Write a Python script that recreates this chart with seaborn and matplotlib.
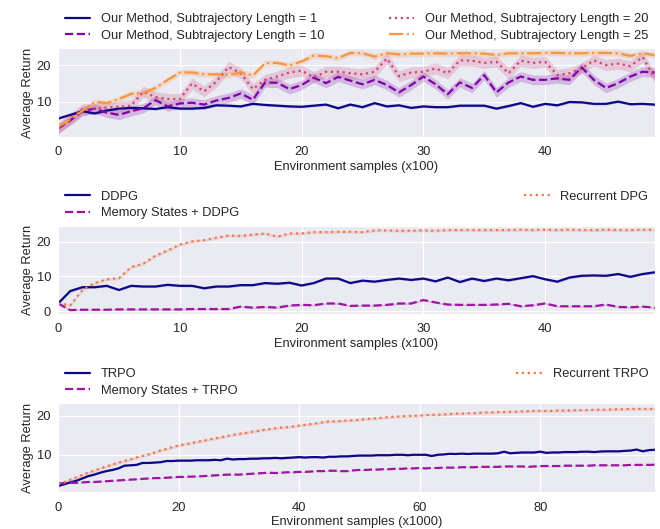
import numpy as np
import pandas as pd
import matplotlib
matplotlib.use("Agg")
import matplotlib.pyplot as plt
import seaborn as sns


# --- panel 1: our method, different subtrajectory lengths (x100 samples)
steps_a = list(range(50))
len1 = [5.5, 6.5, 7.5, 6.9, 7.7, 8.2, 8.4, 8.3, 8.1, 8.6, 8.2, 8.2, 8.4, 9.1, 9.0,
        8.8, 9.5, 9.2, 9.0, 8.8, 8.7, 9.0, 9.3, 8.3, 9.3, 8.6, 9.7, 8.8, 9.1, 8.4,
        8.8, 8.6, 8.6, 9.0, 9.0, 9.0, 8.2, 8.9, 9.7, 8.7, 9.5, 9.1, 10.0, 9.9, 9.5,
        9.5, 10.1, 9.4, 9.5, 9.3]
len10 = [2.8, 5.0, 7.5, 8.2, 7.1, 6.5, 7.5, 8.3, 10.5, 8.8, 9.6, 9.8, 9.3, 10.4, 11.1,
         12.3, 10.6, 15.3, 15.2, 13.5, 14.6, 16.6, 15.1, 16.8, 15.8, 14.8, 16.0, 14.6,
         12.6, 14.6, 16.9, 14.8, 12.1, 15.3, 13.8, 17.3, 12.6, 15.3, 16.9, 16.0, 16.0,
         16.4, 16.0, 19.4, 16.0, 13.8, 15.1, 16.9, 18.2, 18.0]
len20 = [2.8, 5.5, 8.0, 8.2, 8.5, 8.7, 9.0, 12.8, 11.3, 10.8, 10.8, 15.0, 12.9, 15.5,
         19.5, 17.8, 13.5, 16.0, 16.9, 18.0, 18.5, 16.7, 18.2, 18.2, 17.8, 17.5, 18.2,
         21.8, 17.0, 18.0, 18.2, 19.1, 17.8, 21.3, 21.2, 20.6, 20.9, 17.8, 21.2, 20.6,
         20.9, 17.3, 17.8, 19.1, 21.3, 20.0, 20.4, 19.7, 22.2, 16.5]
len25 = [3.2, 5.3, 7.6, 10.0, 9.7, 10.8, 12.2, 12.5, 13.8, 16.0, 18.0, 18.0, 17.5, 17.5,
         17.3, 18.0, 17.2, 20.5, 20.6, 19.9, 21.0, 22.6, 22.4, 21.9, 23.3, 23.2, 22.3,
         23.2, 22.9, 23.1, 23.1, 23.2, 23.1, 23.2, 23.2, 23.1, 22.7, 23.2, 23.2, 23.2,
         23.3, 23.3, 23.2, 23.2, 23.3, 23.3, 23.2, 22.5, 23.2, 22.7]

# --- panel 2: DDPG variants (x100 samples)
steps_b = list(range(50))
ddpg = [2.2, 5.8, 6.9, 6.9, 7.3, 6.1, 7.3, 7.1, 7.1, 7.6, 7.3, 7.3, 6.6, 7.1, 7.1,
        7.5, 7.5, 8.1, 7.9, 8.2, 7.4, 8.1, 9.4, 9.4, 8.1, 8.8, 8.5, 9.0, 9.4, 9.0,
        9.4, 8.6, 9.7, 8.4, 9.4, 8.7, 9.4, 8.9, 9.5, 10.1, 9.2, 8.5, 9.7, 10.2, 10.3,
        10.2, 10.7, 9.9, 10.7, 11.2]
mem_ddpg = [2.2, 0.3, 0.4, 0.4, 0.4, 0.5, 0.5, 0.5, 0.5, 0.5, 0.5, 0.6, 0.6, 0.6, 0.6,
            1.3, 1.0, 1.2, 1.0, 1.6, 1.8, 1.7, 2.2, 2.2, 1.5, 1.6, 1.6, 1.8, 2.2, 2.2,
            3.2, 2.5, 1.9, 1.8, 1.8, 1.8, 1.9, 2.1, 1.4, 1.7, 2.2, 1.4, 1.4, 1.4, 1.4,
            1.9, 1.2, 1.1, 1.3, 1.0]
rdpg = [2.2, 1.7, 6.1, 8.1, 9.2, 9.5, 12.7, 13.7, 16.0, 17.5, 19.2, 20.1, 20.5, 21.2,
        21.8, 21.7, 22.1, 22.4, 21.5, 22.4, 22.4, 22.8, 22.8, 22.9, 22.9, 22.8, 23.3,
        23.3, 23.2, 23.2, 23.3, 23.2, 23.4, 23.4, 23.4, 23.4, 23.4, 23.4, 23.5, 23.4,
        23.5, 23.4, 23.5, 23.4, 23.4, 23.5, 23.4, 23.4, 23.5, 23.5]

# --- panel 3: TRPO variants (x1000 samples)
steps_c = list(range(100))
trpo = [2.0, 2.4, 2.9, 3.3, 3.9, 4.5, 4.9, 5.4, 5.8, 6.1,
        6.5, 7.2, 7.3, 7.4, 7.9, 7.9, 8.0, 8.1, 8.4, 8.4,
        8.5, 8.5, 8.5, 8.6, 8.6, 8.6, 8.7, 8.6, 9.0, 8.8,
        8.9, 8.9, 9.0, 9.0, 9.1, 9.1, 9.2, 9.1, 9.2, 9.3,
        9.4, 9.3, 9.4, 9.4, 9.3, 9.5, 9.5, 9.6, 9.6, 9.7,
        9.8, 9.8, 9.8, 9.9, 9.9, 9.9, 10.0, 10.0, 9.9, 10.0,
        10.0, 10.0, 9.7, 10.0, 10.1, 10.25, 10.2, 10.3, 10.2, 10.3,
        10.3, 10.3, 10.3, 10.4, 10.8, 10.4, 10.5, 10.6, 10.6, 10.6,
        10.8, 10.5, 10.6, 10.6, 10.7, 10.7, 10.7, 10.8, 10.8, 10.7,
        10.85, 10.9, 10.9, 10.9, 11.0, 11.1, 11.35, 10.9, 11.2, 11.3]
mem_trpo = [2.6, 2.7, 2.8, 2.8, 2.9, 3.0, 3.0, 3.1, 3.2, 3.3,
            3.4, 3.5, 3.6, 3.7, 3.8, 3.9, 4.0, 4.0, 4.1, 4.2,
            4.3, 4.3, 4.4, 4.4, 4.5, 4.6, 4.7, 4.8, 4.9, 4.9,
            4.9, 5.0, 5.1, 5.2, 5.3, 5.4, 5.3, 5.4, 5.5, 5.5,
            5.6, 5.6, 5.7, 5.8, 5.8, 5.9, 5.9, 5.8, 5.8, 6.0,
            6.1, 6.1, 6.2, 6.2, 6.3, 6.3, 6.4, 6.4, 6.5, 6.5,
            6.6, 6.5, 6.6, 6.6, 6.7, 6.7, 6.7, 6.8, 6.8, 6.8,
            6.9, 6.9, 6.9, 6.9, 7.0, 7.0, 7.0, 7.0, 6.9, 7.0,
            7.1, 7.1, 7.1, 7.1, 7.2, 7.2, 7.2, 7.2, 7.2, 7.3,
            7.3, 7.3, 7.3, 7.3, 7.3, 7.4, 7.4, 7.4, 7.4, 7.45]
rtrpo = [2.45, 3.0, 3.6, 4.2, 4.8, 5.4, 5.9, 6.5, 7.0, 7.5,
         8.0, 8.4, 8.8, 9.3, 9.7, 10.1, 10.6, 11.1, 11.5, 12.0,
         12.4, 12.7, 13.0, 13.3, 13.6, 13.9, 14.2, 14.5, 14.8, 15.1,
         15.4, 15.6, 15.9, 16.1, 16.4, 16.6, 16.8, 17.0, 17.1, 17.3,
         17.5, 17.7, 17.9, 18.1, 18.4, 18.6, 18.6, 18.7, 18.8, 18.9,
         19.0, 19.2, 19.3, 19.4, 19.6, 19.7, 19.8, 19.9, 20.0, 20.0,
         20.1, 20.2, 20.3, 20.3, 20.4, 20.5, 20.6, 20.6, 20.7, 20.7,
         20.8, 20.9, 20.9, 21.0, 21.0, 21.1, 21.1, 21.2, 21.2, 21.3,
         21.3, 21.3, 21.3, 21.4, 21.4, 21.4, 21.5, 21.5, 21.5, 21.6,
         21.6, 21.6, 21.7, 21.7, 21.7, 21.8, 21.8, 21.8, 21.8, 21.8]

# half width of the shaded band around each curve
spread_a = [0.3, 1.3, 1.5, 0.8]
spread_b = [0.3, 0.25, 0.4]
spread_c = [0.15, 0.1, 0.35]

labels_a = ["Our Method, Subtrajectory Length = 1", "Our Method, Subtrajectory Length = 10",
            "Our Method, Subtrajectory Length = 20", "Our Method, Subtrajectory Length = 25"]
labels_b = ["DDPG", "Memory States + DDPG", "Recurrent DPG"]
labels_c = ["TRPO", "Memory States + TRPO", "Recurrent TRPO"]

sns.set_style("darkgrid")
plt.rcParams["font.family"] = ["Liberation Sans", "DejaVu Sans"]
plt.rcParams["font.size"] = 9.3

pal4 = [plt.cm.plasma(v) for v in [0.0, 0.25, 0.5, 0.75]]
pal3 = [plt.cm.plasma(v) for v in [0.0, 1 / 3, 2 / 3]]
styles4 = ["-", "--", ":", "-."]
styles3 = ["-", "--", ":"]

fig = plt.figure(figsize=(6.6, 5.29), dpi=100)
ax1 = fig.add_axes([0.088, 0.741, 0.904, 0.168])
ax2 = fig.add_axes([0.088, 0.406, 0.904, 0.167])
ax3 = fig.add_axes([0.088, 0.069, 0.904, 0.169])


def draw(ax, x, series, spreads, labels, colors, styles):
    for y, s, lab, c, ls in zip(series, spreads, labels, colors, styles):
        df = pd.DataFrame({"x": x, "y": y})
        sns.lineplot(data=df, x="x", y="y", ax=ax, color=c, linestyle=ls,
                     linewidth=1.6, label=lab)
        y = np.array(y)
        ax.fill_between(x, y - s, y + s, color=c, alpha=0.22, linewidth=0)
    ax.set_ylabel("Average Return", fontsize=9.3, labelpad=2)
    ax.tick_params(axis="x", labelsize=9.3, pad=3)
    ax.tick_params(axis="y", labelsize=9.3, pad=1.5)
    ax.legend(bbox_to_anchor=(0, 1.0, 1, 0.3), loc="lower left", mode="expand",
              ncol=2, frameon=False, borderaxespad=0.1, fontsize=9.3,
              labelspacing=0.35)


draw(ax1, steps_a, [len1, len10, len20, len25], spread_a, labels_a, pal4, styles4)
ax1.set_xlim(0, 49)
ax1.set_ylim(0.5, 24.6)
ax1.set_yticks([10, 20])
ax1.set_xlabel("Environment samples (x100)", fontsize=9.3, labelpad=2)

draw(ax2, steps_b, [ddpg, mem_ddpg, rdpg], spread_b, labels_b, pal3, styles3)
ax2.set_xlim(0, 49)
ax2.set_ylim(-0.9, 24.6)
ax2.set_yticks([0, 10, 20])
ax2.set_xlabel("Environment samples (x100)", fontsize=9.3, labelpad=2)

draw(ax3, steps_c, [trpo, mem_trpo, rtrpo], spread_c, labels_c, pal3, styles3)
ax3.set_xlim(0, 99)
ax3.set_ylim(0.3, 23.3)
ax3.set_yticks([10, 20])
ax3.set_xlabel("Environment samples (x1000)", fontsize=9.3, labelpad=2)

fig.savefig("out.png", dpi=100)
